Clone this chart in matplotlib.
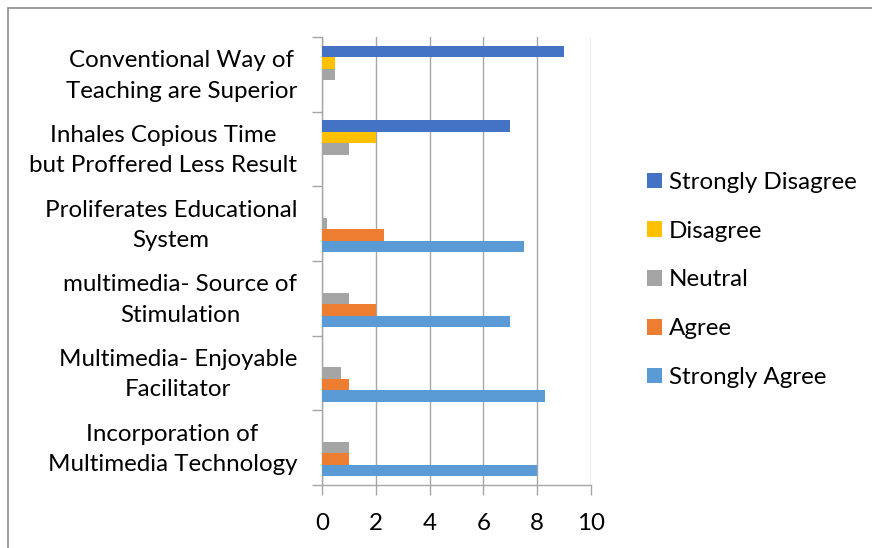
import matplotlib
matplotlib.use("Agg")
import matplotlib.pyplot as plt
from matplotlib.patches import Patch, Rectangle
from matplotlib.transforms import ScaledTranslation
import numpy as np

# ---- data (bottom category first, as drawn) --------------------------------
categories = [
    "Incorporation of\nMultimedia Technology",
    "Multimedia- Enjoyable\nFacilitator",
    "multimedia- Source of\nStimulation",
    "Proliferates Educational\nSystem",
    "Inhales Copious Time\nbut Proffered Less Result",
    "Conventional Way of\nTeaching are Superior",
]
strongly_agree = [8, 8.3, 7, 7.5, 0, 0]
agree = [1, 1, 2, 2.3, 0, 0]
neutral = [1, 0.7, 1, 0.2, 1, 0.5]
disagree = [0, 0, 0, 0, 2, 0.5]
strongly_disagree = [0, 0, 0, 0, 7, 9]

series = [
    ("Strongly Agree", strongly_agree, "#5B9BD5"),
    ("Agree", agree, "#ED7D31"),
    ("Neutral", neutral, "#A5A5A5"),
    ("Disagree", disagree, "#FFC000"),
    ("Strongly Disagree", strongly_disagree, "#4472C4"),
]

FONT = "Lato"
FS = 17.4
GRID = "#A6A6A6"

plt.rcParams["font.family"] = FONT

W, H = 872, 548
fig = plt.figure(figsize=(W / 100, H / 100), dpi=100)
ax = fig.add_axes([322 / W, 1 - 485 / H, (591 - 322) / W, (485 - 37) / H])

y = np.arange(len(categories))
bh = 1 / 6.5
for i, (name, vals, col) in enumerate(series):
    ax.barh(y + (i - 2) * bh, vals, height=bh, color=col, label=name, zorder=3)

ax.set_xlim(0, 10)
ax.set_ylim(-0.5, len(categories) - 0.5)
ax.set_xticks(np.arange(0, 11, 2))
ax.xaxis.grid(True, color=GRID, lw=1.0, zorder=0)
ax.set_yticks(y)
ax.set_yticklabels(categories, multialignment="center", linespacing=1.55)
ax.set_yticks(np.arange(-0.5, len(categories), 1), minor=True)
ax.tick_params(axis="y", which="major", length=0, pad=18, labelsize=FS)
ax.tick_params(axis="y", which="minor", length=7, color=GRID, width=1)
ax.tick_params(axis="x", length=7, color=GRID, width=1, pad=13, labelsize=FS)
# nudge category labels up a little, like the original
up = ScaledTranslation(0, 5 / 100, fig.dpi_scale_trans)
for lbl in ax.get_yticklabels():
    lbl.set_transform(lbl.get_transform() + up)
for s in ("top", "right"):
    ax.spines[s].set_visible(False)
for s in ("left", "bottom"):
    ax.spines[s].set_color(GRID)
    ax.spines[s].set_linewidth(1.0)

handles = [Patch(facecolor=c, label=n) for n, _, c in reversed(series)]
fig.legend(handles=handles, loc="center left", bbox_to_anchor=(637 / W, 1 - 280 / H),
           frameon=False, fontsize=FS, handlelength=0.62, handleheight=0.62,
           handletextpad=0.3, labelspacing=1.15, borderaxespad=0)

# chart-area border (cropped on right/bottom in the original)
fig.patches.append(Rectangle((8 / W, -0.1), 1.2, 1.1 - 8 / H, transform=fig.transFigure,
                             fill=False, edgecolor="#8C8C8C", lw=1.2))

fig.savefig("out.png", dpi=100)
